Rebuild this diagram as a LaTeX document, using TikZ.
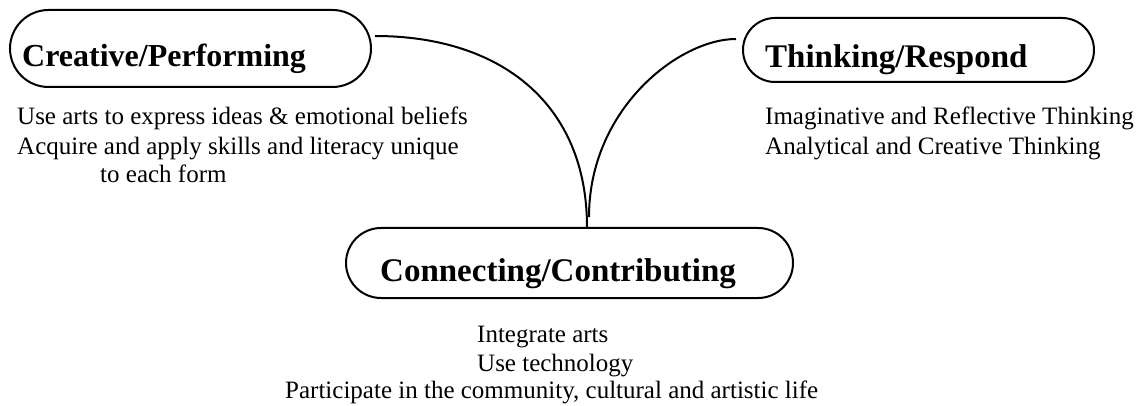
\documentclass[tikz,border=0pt]{standalone}
\usepackage{fontspec}
\setmainfont{Liberation Serif}
\usetikzlibrary{calc}
\begin{document}
\begin{tikzpicture}[x=1pt,y=-1pt,
  pill/.style={draw, line width=2pt, inner sep=0pt, rectangle},
  title/.style={anchor=base west, inner sep=0pt, font=\fontsize{33}{36}\selectfont\bfseries},
  body/.style={anchor=base west, inner sep=0pt, font=\fontsize{25}{29}\selectfont},
  link/.style={draw, line width=2pt}]
\useasboundingbox (0,0) rectangle (1141,406);
% boxes
\node[pill, minimum width=361pt, minimum height=77pt, rounded corners=38.5pt] (cp) at (190.5,48.5) {};
\node[pill, minimum width=351pt, minimum height=64pt, rounded corners=32pt] (tr) at (918.5,50) {};
\node[pill, minimum width=447pt, minimum height=70pt, rounded corners=35pt] (cc) at (569.5,263) {};
% titles
\node[title, font=\fontsize{32}{36}\selectfont\bfseries] (cpt) at (22,67) {Creative/Performing};
\node[title] (trt) at (765,68) {Thinking/Respond};
\node[title] (cct) at (380,282) {Connecting/Contributing};
% texts
\node[body] (c1) at (17,125) {Use arts to express ideas \& emotional beliefs};
\node[body] (c2) at (17,155) {Acquire and apply skills and literacy unique};
\node[body] (c3) at (100,183) {to each form};
\node[body] (t1) at (765,125) {Imaginative and Reflective Thinking};
\node[body] (t2) at (765,155) {Analytical and Creative Thinking};
\node[body] (b1) at (477,342) {Integrate arts};
\node[body] (b2) at (477,371) {Use technology};
\node[body] (b3) at (285,398) {Participate in the community, cultural and artistic life};
% connectors
\draw[link] ($(cp.east)+(3,-12.5)$) .. controls +(126,0) and +(0,-123) .. ($(cc.north)+(17.5,0)$);
\draw[link] ($(tr.west)+(-6,-11)$) .. controls +(-57,0) and +(0,-108) .. ($(cc.north)+(19.5,-10)$);
\end{tikzpicture}
\end{document}
